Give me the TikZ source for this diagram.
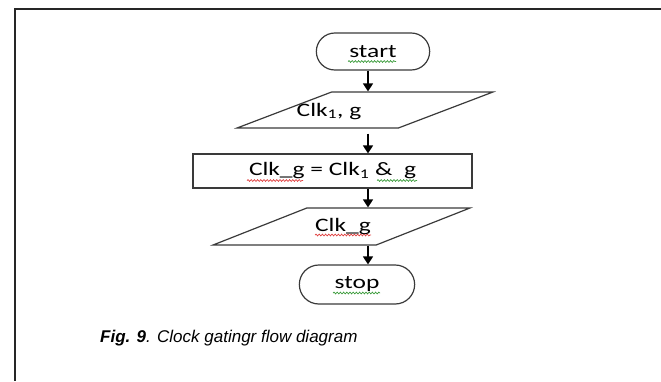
\documentclass[tikz,border=0pt]{standalone}
\usepackage{fontspec}
\usetikzlibrary{shapes.geometric,shapes.misc,arrows.meta,decorations.pathmorphing}
\newfontfamily\flowfont{Carlito}[FakeStretch=1.34]
\newfontfamily\capfont{Liberation Sans}
\definecolor{edge}{HTML}{3A3A3A}
\definecolor{spellred}{HTML}{E04040}
\definecolor{spellgreen}{HTML}{3C9C3C}
\tikzset{
  term/.style={rounded rectangle, draw=edge, line width=1.2pt, font=\flowfont\fontsize{19}{22}\selectfont},
  io/.style={trapezium, trapezium stretches=true, draw=edge, line width=1.2pt},
  proc/.style={rectangle, draw=edge, line width=1.2pt, font=\flowfont\fontsize{19}{22}\selectfont},
  txt/.style={font=\flowfont\fontsize{19}{22}\selectfont, inner sep=0pt},
  arr/.style={line width=1.5pt, -{Triangle[width=10pt,length=8pt]}},
  squig/.style={decorate, decoration={snake, amplitude=0.9pt, segment length=3.2pt}, line width=0.7pt}
}
\begin{document}
\begin{tikzpicture}[x=1pt,y=-1pt]
\useasboundingbox (0,0) rectangle (661,381);
% page frame
\draw[line width=2pt, black!85] (661,9) -- (15,9) -- (15,381);

% flowchart shapes
\node[term, minimum width=120, minimum height=37] (start) at (373,51.5) {start};
\node[io, trapezium left angle=35.2, trapezium right angle=144.8,
      minimum width=256, minimum height=36] (in) at (365,110) {};
\node[txt, anchor=base] (intext) at (329,116) {Clk\textsubscript{1}, g};
\node[proc, minimum width=279, minimum height=34] (gate) at (332.5,171) {Clk\_g = Clk\textsubscript{1} \& \ g};
\node[io, trapezium left angle=36.5, trapezium right angle=143.5,
      minimum width=257, minimum height=37] (out) at (341.5,226.5) {};
\node[txt] (outtext) at (343,226.5) {Clk\_g};
\node[term, minimum width=122, minimum height=39] (stop) at (357,284.5) {stop};

% connectors on a common vertical
\coordinate (ax) at (368,0);
\draw[arr] (start.south -| ax) -- (in.north -| ax);
\draw[arr, shorten <=5pt] (in.south -| ax) -- (gate.north -| ax);
\draw[arr] (gate.south -| ax) -- (out.north -| ax);
\draw[arr] (out.south -| ax) -- (stop.north -| ax);

% spell-check squiggles under words
\draw[squig, spellgreen] (348,61.5) -- (396,61.5);
\draw[squig, spellred] (247,180.5) -- (303,180.5);
\draw[squig, spellgreen] (377,180.5) -- (417,180.5);
\draw[squig, spellred] (315,235) -- (371,235);
\draw[squig, spellgreen] (333,293) -- (380,293);

% caption
\node[anchor=base west, inner sep=0pt, font=\capfont\fontsize{17}{20}\selectfont] (cap) at (100,342)
  {\textbf{\textit{Fig. 9}}\textit{. Clock gatingr flow diagram}};
\end{tikzpicture}
\end{document}
